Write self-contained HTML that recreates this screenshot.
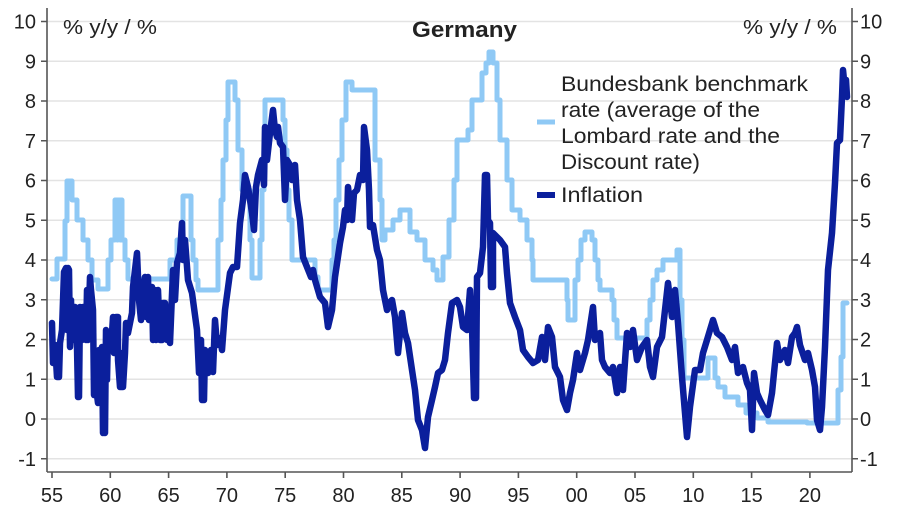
<!DOCTYPE html>
<html>
<head>
<meta charset="utf-8">
<style>
html,body{margin:0;padding:0;background:#fff;}
svg{display:block;}
text{font-family:"Liberation Sans",sans-serif;fill:#222;}
</style>
</head>
<body>
<svg width="900" height="510" viewBox="0 0 900 510" xmlns="http://www.w3.org/2000/svg">
<rect width="900" height="510" fill="#fff"/>
<!-- gridlines -->
<g stroke="#e3e3e3" stroke-width="1.5">
<line x1="47" x2="852" y1="21.5" y2="21.5"/>
<line x1="47" x2="852" y1="61.25" y2="61.25"/>
<line x1="47" x2="852" y1="101" y2="101"/>
<line x1="47" x2="852" y1="140.75" y2="140.75"/>
<line x1="47" x2="852" y1="180.5" y2="180.5"/>
<line x1="47" x2="852" y1="220.25" y2="220.25"/>
<line x1="47" x2="852" y1="260" y2="260"/>
<line x1="47" x2="852" y1="299.75" y2="299.75"/>
<line x1="47" x2="852" y1="339.5" y2="339.5"/>
<line x1="47" x2="852" y1="379.25" y2="379.25"/>
<line x1="47" x2="852" y1="419" y2="419"/>
<line x1="47" x2="852" y1="458.75" y2="458.75"/>
</g>
<!-- axes -->
<g stroke="#555" stroke-width="1.6" fill="none">
<line x1="47" y1="8" x2="47" y2="472"/>
<line x1="852" y1="8" x2="852" y2="472"/>
<line x1="47" y1="472" x2="852" y2="472"/>
<path d="M41 21.5H47M41 61.25H47M41 101H47M41 140.75H47M41 180.5H47M41 220.25H47M41 260H47M41 299.75H47M41 339.5H47M41 379.25H47M41 419H47M41 458.75H47"/>
<path d="M852 21.5H858M852 61.25H858M852 101H858M852 140.75H858M852 180.5H858M852 220.25H858M852 260H858M852 299.75H858M852 339.5H858M852 379.25H858M852 419H858M852 458.75H858"/>
<path d="M52 472V478M110.3 472V478M168.6 472V478M226.9 472V478M285.2 472V478M343.5 472V478M401.8 472V478M460.1 472V478M518.4 472V478M576.7 472V478M635 472V478M693.3 472V478M751.6 472V478M809.9 472V478"/>
</g>
<!-- left y labels -->
<g font-size="20" text-anchor="end">
<text x="36" y="28.5">10</text>
<text x="36" y="68.25">9</text>
<text x="36" y="108">8</text>
<text x="36" y="147.75">7</text>
<text x="36" y="187.5">6</text>
<text x="36" y="227.25">5</text>
<text x="36" y="267">4</text>
<text x="36" y="306.75">3</text>
<text x="36" y="346.5">2</text>
<text x="36" y="386.25">1</text>
<text x="36" y="426">0</text>
<text x="36" y="465.75">-1</text>
</g>
<g font-size="20" text-anchor="start">
<text x="860" y="28.5">10</text>
<text x="860" y="68.25">9</text>
<text x="860" y="108">8</text>
<text x="860" y="147.75">7</text>
<text x="860" y="187.5">6</text>
<text x="860" y="227.25">5</text>
<text x="860" y="267">4</text>
<text x="860" y="306.75">3</text>
<text x="860" y="346.5">2</text>
<text x="860" y="386.25">1</text>
<text x="860" y="426">0</text>
<text x="860" y="465.75">-1</text>
</g>
<!-- x labels -->
<g font-size="20" text-anchor="middle">
<text x="52" y="502">55</text>
<text x="110.3" y="502">60</text>
<text x="168.6" y="502">65</text>
<text x="226.9" y="502">70</text>
<text x="285.2" y="502">75</text>
<text x="343.5" y="502">80</text>
<text x="401.8" y="502">85</text>
<text x="460.1" y="502">90</text>
<text x="518.4" y="502">95</text>
<text x="576.7" y="502">00</text>
<text x="635" y="502">05</text>
<text x="693.3" y="502">10</text>
<text x="751.6" y="502">15</text>
<text x="809.9" y="502">20</text>
</g>
<text x="63" y="34" font-size="20" textLength="94" lengthAdjust="spacingAndGlyphs">% y/y / %</text>
<text x="743" y="34" font-size="20" textLength="94" lengthAdjust="spacingAndGlyphs">% y/y / %</text>
<text x="412" y="37" font-size="22" font-weight="bold" textLength="105" lengthAdjust="spacingAndGlyphs">Germany</text>

<!-- benchmark rate -->
<path fill="none" stroke="#8fc9f5" stroke-width="5" stroke-linejoin="round" stroke-linecap="round"
d="M52 279H57V259H65V221H67V181H72V200H77V220H83V240H88V260H92V280H98V289H108V260H111V240H115V200H117V240H118V200H120V240H121V200H122V240H125V260H128V279H170V260H177V240H183V196H191V240H193V260H196V280H198V290H218V240H221V200H223V160H226V120H228V82H235V100H238V150H242V190H250V240H252V278H260V240H262V190H264V140H265V100H283V120H285V150H287V190H289V220H292V260H315V277H318V290H332V260H334V240H336V200H339V160H342V120H346V82H352V90H375V160H380V200H382V240H385V230H393V220H400V210H410V232H417V240H425V260H433V270H437V280H443V257H449V220H454V180H457V140H468V130H472V100H482V73H486V63H489V52H493V63H497V100H500V140H507V180H512V210H520V220H527V240H532V260H533V280H567V300H568V320H575V280H578V260H581V240H585V232H592V240H595V260H598V280H600V290H612V300H614V320H617V338H647V320H650V300H653V280H657V270H663V260H677V250H680V300H682V340H684V378H708V358H715V378H718V387H725V397H738V405H746V413H757V418H768V422H807V423H838V390H841V357H843V303H847"/>

<!-- inflation -->
<polyline fill="none" stroke="#0b1f9c" stroke-width="6.5" stroke-linejoin="round" stroke-linecap="round"
points="52,323 53,363 55,345 56,360 57,377 59,377 60,343 62,330 64,272 66,268 67,330 68,268 69,270 70,347 71,300 72,340 73,307 74,340 75,307 76,330 77,347 78,397 79,397 80,307 82,340 83,307 85,307 86,340 87,290 88,340 90,277 91,290 93,310 94,395 95,360 96,387 98,403 99,350 100,350 101,390 102,347 103,433 104,360 105,433 106,330 107,380 108,333 110,350 112,333 113,317 114,353 116,317 118,317 118,360 120,387 121,353 122,387 123,387 125,353 126,323 128,333 132,313 133,287 135,270 137,253 139,300 141,320 143,290 145,277 146,317 148,277 149,320 150,287 152,287 153,340 155,290 156,340 158,290 160,340 162,340 163,303 165,303 167,340 168,310 170,343 173,270 175,300 177,263 180,253 182,223 183,260 185,240 188,280 192,293 197,330 199,373 201,340 202,400 204,400 205,350 208,373 211,350 213,372 215,320 217,345 220,338 222,350 225,310 230,273 233,267 237,267 240,223 243,200 245,175 248,187 250,200 252,213 254,230 256,187 258,175 262,160 264,185 265,127 267,160 270,133 273,110 275,130 277,137 278,127 280,143 283,147 285,200 287,160 290,165 292,180 295,165 297,200 300,220 303,257 307,267 311,277 313,270 315,280 320,297 325,303 328,327 332,310 335,277 340,243 343,227 345,210 347,220 348,187 352,220 354,193 357,190 360,175 363,180 364,127 367,150 369,190 370,227 373,225 377,250 380,260 383,290 387,310 389,303 392,300 395,317 398,353 402,313 405,333 408,343 412,370 415,390 418,420 422,430 425,448 428,417 432,400 435,387 438,373 442,370 445,360 448,333 452,303 457,300 460,307 463,327 467,330 470,290 472,327 474,398 476,398 477,277 480,273 483,247 485,175 487,175 488,220 490,223 491,287 493,287 493,233 497,237 500,240 505,247 507,273 510,303 515,317 520,330 523,350 528,357 533,363 538,360 542,337 545,360 548,327 552,337 555,367 560,377 563,400 567,410 570,393 573,380 577,353 580,370 585,353 588,340 593,307 595,340 600,333 602,360 605,367 610,373 613,367 617,393 620,367 623,390 627,333 630,347 633,330 637,360 642,347 647,340 650,367 653,377 657,347 662,337 665,310 668,283 672,317 675,290 678,323 682,377 685,413 687,437 690,407 695,370 700,370 703,353 707,340 713,320 717,333 722,337 727,347 732,360 735,347 738,373 743,367 747,383 750,390 752,430 754,373 757,393 760,400 765,410 768,415 772,393 777,343 780,360 785,350 788,363 792,337 795,333 797,327 800,345 805,360 808,353 812,370 815,387 817,420 820,430 822,407 825,347 828,270 832,233 835,183 837,143 840,140 842,97 843,70 845,90 846,80 847,97"/>

<!-- legend -->
<line x1="537" y1="122" x2="555" y2="122" stroke="#8fc9f5" stroke-width="5"/>
<line x1="537" y1="195" x2="555" y2="195" stroke="#0b1f9c" stroke-width="6"/>
<g font-size="21">
<text x="561" y="91" textLength="247" lengthAdjust="spacingAndGlyphs">Bundesbank benchmark</text>
<text x="561" y="117" textLength="199" lengthAdjust="spacingAndGlyphs">rate (average of the</text>
<text x="561" y="143" textLength="219" lengthAdjust="spacingAndGlyphs">Lombard rate and the</text>
<text x="561" y="169" textLength="139" lengthAdjust="spacingAndGlyphs">Discount rate)</text>
<text x="561" y="202" textLength="82" lengthAdjust="spacingAndGlyphs">Inflation</text>
</g>
</svg>
</body>
</html>
